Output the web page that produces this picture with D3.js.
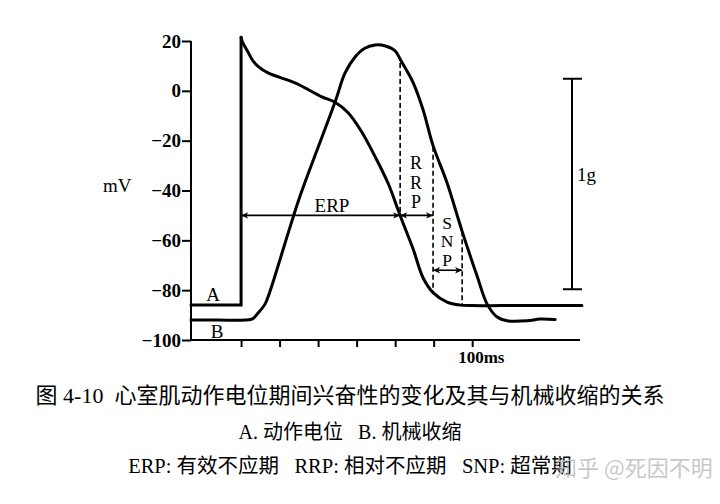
<!DOCTYPE html>
<html><head><meta charset="utf-8">
<script src="https://cdn.jsdelivr.net/npm/d3@7"></script>
<style>body{margin:0;background:#fff} svg{display:block} text.pre{white-space:pre}</style>
</head><body>
<svg id="c" width="720" height="504"></svg>
<script>
// ---- data ----
const voltTicks = [20, 0, -20, -40, -60, -80, -100];
const timeTicks = [-20, 0, 20, 40, 60, 80, 100];
const timeLabel = "100ms";
// A: action potential [ms, mV]
const actionPotential = [
  [-46,-86],[-20,-86],[-20,21.5],[-19.2,19.5],[-16.4,15.6],[-13.8,12],[-11.2,9.8],[-6,7.2],
  [8,3.2],[22,-2.4],[28.8,-4.6],[35.6,-8.8],[42.9,-16.8],[49.6,-26.4],[56.4,-37.2],
  [62.6,-50],[69.4,-63.6],[74.5,-75],[79.7,-81],[87,-84.8],[93.8,-86],[100,-86.2],
  [115,-86.2],[135,-86.2],[157,-86.2]
];
// B: mechanical contraction (plotted on the same frame)
const contraction = [
  [-46,-92],[-32,-92],[-18,-92],[-14,-91.5],[-11.5,-89.5],[-7.5,-85.5],[-5,-80.5],[5.5,-54.5],[10.5,-42.5],
  [28.8,-4.5],[34,7.2],[39.2,13.6],[44,17],[49.6,18.4],[55,18],[60,16],[63.1,12],
  [69.4,3.2],[74.5,-7.6],[79.7,-22],[87,-37],[94.8,-56.4],[102.6,-74.4],[107.8,-85.6],
  [113,-90.8],[118.2,-92.3],[128.6,-92.3],[135.3,-91.6],[143.1,-91.8]
];
const periodNames = ["ERP", "RRP", "SNP"];
const periodBounds = [-20, 62.6, 79.7, 94.8];
const periodLevels = [-50, -50, -72];
const dashTop = [11.2, -22.4, -56.4];
const dashBottom = [-50, -81, -86];
const forceBar = [4.8, -79.6];
const forceLabel = "1g";
const yLabel = "mV";
const captionLines = [
  "图 4-10  心室肌动作电位期间兴奋性的变化及其与机械收缩的关系",
  "A. 动作电位   B. 机械收缩",
  "ERP: 有效不应期   RRP: 相对不应期   SNP: 超常期"
];
const watermark = "知乎 @死因不明";

// ---- drawing ----
const svg = d3.select("#c");
svg.append("rect").attr("width",720).attr("height",504).attr("fill","#fff");
const serif = "'Liberation Serif','Times New Roman',serif";
const x = d3.scaleLinear().domain([-46, 156]).range([191, 580]);
const y = d3.scaleLinear().domain([-100, 20]).range([340, 41]);

const defs = svg.append("defs");
defs.append("marker").attr("id","ah").attr("viewBox","0 0 10 10")
  .attr("refX",10).attr("refY",5).attr("markerWidth",9).attr("markerHeight",7)
  .attr("markerUnits","userSpaceOnUse").attr("orient","auto-start-reverse")
  .append("path").attr("d","M0,0.5 L10,5 L0,9.5 L2.5,5 Z").attr("fill","#000");

// y axis
const yAxis = svg.append("g").attr("transform",`translate(${x(-46)},0)`)
  .call(d3.axisLeft(y).tickValues(voltTicks).tickSize(9).tickPadding(1)
    .tickFormat(d => d < 0 ? "\u2212" + Math.abs(d) : d));
yAxis.select(".domain").attr("stroke","#000").attr("stroke-width",2).attr("d",`M0,${y(20)}V${y(-100)}`);
yAxis.selectAll(".tick line").attr("stroke","#000").attr("stroke-width",2);
yAxis.selectAll(".tick text").attr("font-family",serif).attr("font-size",19).attr("font-weight","bold").attr("fill","#000");

// x axis
const xAxis = svg.append("g").attr("transform",`translate(0,${y(-100)})`)
  .call(d3.axisBottom(x).tickValues(timeTicks).tickSize(7).tickFormat(""));
xAxis.select(".domain").attr("stroke","#000").attr("stroke-width",2).attr("d",`M${x(-46)},0H${x(156)}`);
xAxis.selectAll(".tick line").attr("stroke","#000").attr("stroke-width",2);
svg.append("text").attr("x", x(100) - 14).attr("y", y(-100) + 23)
  .attr("font-family",serif).attr("font-size",17).attr("font-weight","bold").text(timeLabel);

svg.append("text").attr("x",103).attr("y",192).attr("font-family",serif)
  .attr("font-size",19).text(yLabel);

// curves
const lin = d3.line().x(d=>x(d[0])).y(d=>y(d[1]));
const smooth = d3.line().x(d=>x(d[0])).y(d=>y(d[1])).curve(d3.curveCatmullRom.alpha(0.5));
const curveStyle = p => p.attr("fill","none").attr("stroke","#000").attr("stroke-width",3)
  .attr("stroke-linejoin","round").attr("stroke-linecap","round");
svg.append("path").attr("d", lin(actionPotential.slice(0,3))).call(curveStyle).attr("stroke-linejoin","miter");
svg.append("path").attr("d", smooth(actionPotential.slice(2))).call(curveStyle);
svg.append("path").attr("d", smooth(contraction)).call(curveStyle);

// dashed lines
periodBounds.slice(1).forEach((t,i) => {
  svg.append("line").attr("x1",x(t)).attr("x2",x(t)).attr("y1",y(dashTop[i])).attr("y2",y(dashBottom[i]))
    .attr("stroke","#000").attr("stroke-width",1.6).attr("stroke-dasharray","5,3");
});

// period arrows
periodNames.forEach((n,i) => {
  svg.append("line").attr("x1",x(periodBounds[i])).attr("x2",x(periodBounds[i+1]))
    .attr("y1",y(periodLevels[i])).attr("y2",y(periodLevels[i]))
    .attr("stroke","#000").attr("stroke-width",1.6)
    .attr("marker-start","url(#ah)").attr("marker-end","url(#ah)");
});
// labels
svg.append("text").attr("x",332).attr("y",212).attr("text-anchor","middle")
  .attr("font-family",serif).attr("font-size",19).text(periodNames[0]);
periodNames[1].split("").forEach((c,i) => svg.append("text").attr("x",416).attr("y",169+i*19.5)
  .attr("text-anchor","middle").attr("font-family",serif).attr("font-size",18).text(c));
periodNames[2].split("").forEach((c,i) => svg.append("text").attr("x",447).attr("y",228.5+i*18.5)
  .attr("text-anchor","middle").attr("font-family",serif).attr("font-size",17.5).text(c));

svg.append("text").attr("x",213).attr("y",301).attr("text-anchor","middle")
  .attr("font-family",serif).attr("font-size",19).text("A");
svg.append("text").attr("x",217).attr("y",338).attr("text-anchor","middle")
  .attr("font-family",serif).attr("font-size",19).text("B");

// force scale bar
const bx = 572;
svg.append("path").attr("d",`M${bx-9},${y(forceBar[0])}H${bx+10}M${bx},${y(forceBar[0])}V${y(forceBar[1])}M${bx-9},${y(forceBar[1])}H${bx+10}`)
  .attr("stroke","#000").attr("stroke-width",2).attr("fill","none");
svg.append("text").attr("x",577).attr("y",181).attr("font-family",serif).attr("font-size",19).text(forceLabel);

// caption
const capFont = "'Liberation Serif','Noto Sans CJK SC',serif";
const capY = [403, 439, 473];
const capSize = [22, 20, 20.5];
captionLines.forEach((t,i) => svg.append("text").attr("class","pre").attr("x",350).attr("y",capY[i]).attr("text-anchor","middle")
  .attr("font-family",capFont).attr("font-size",capSize[i]).text(t));
svg.append("text").attr("x",555).attr("y",476).attr("font-family","'Noto Sans CJK SC',sans-serif")
  .attr("font-size",22).attr("fill","#bdbdbd").attr("fill-opacity",0.85).text(watermark);
</script>
</body></html>
